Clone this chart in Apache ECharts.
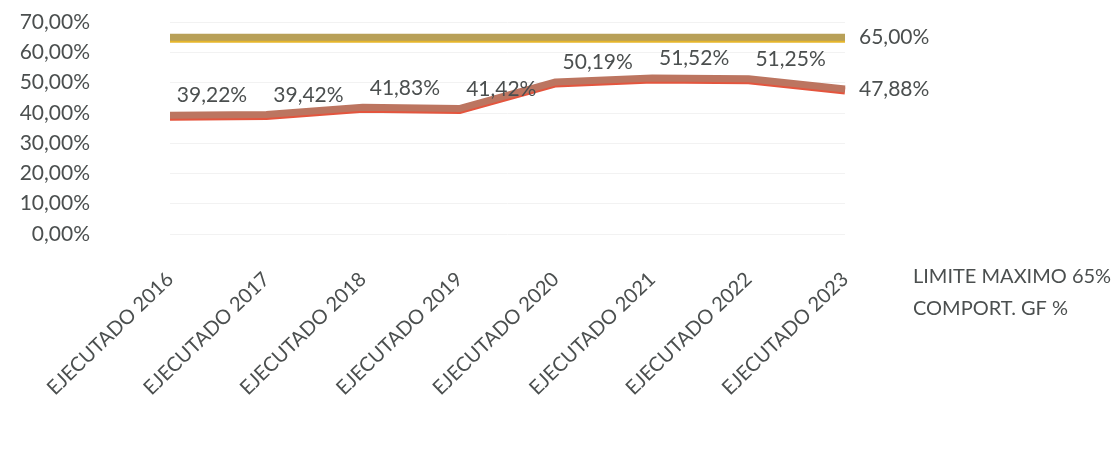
<!DOCTYPE html>
<html>
<head>
<meta charset="utf-8">
<script src="https://cdn.jsdelivr.net/npm/echarts@6/dist/echarts.min.js"></script>
<style>
  html, body { margin: 0; padding: 0; background: #ffffff; }
  #chart { width: 1120px; height: 464px; }
</style>
</head>
<body>
<div id="chart"></div>
<script>
// categorías y valores
const categories = ['EJECUTADO 2016', 'EJECUTADO 2017', 'EJECUTADO 2018', 'EJECUTADO 2019',
  'EJECUTADO 2020', 'EJECUTADO 2021', 'EJECUTADO 2022', 'EJECUTADO 2023'];
const comportGF = [39.22, 39.42, 41.83, 41.42, 50.19, 51.52, 51.25, 47.88];
const limiteMaximo = [65, 65, 65, 65, 65, 65, 65, 65];
const seriesNames = ['LIMITE MAXIMO 65%', 'COMPORT. GF %'];

const fmt = v => v.toFixed(2).replace('.', ',') + '%';
const textColor = '#4b4f4f';
const font = 'Lato';

const chart = echarts.init(document.getElementById('chart'));
const option = {
  animation: false,
  textStyle: { fontFamily: font },
  legend: {
    data: seriesNames,
    orient: 'vertical',
    left: 902,
    top: 262,
    itemWidth: 0,
    itemHeight: 0,
    itemGap: 12,
    textStyle: { fontFamily: font, fontSize: 20, color: textColor }
  },
  grid: {
    left: 170,
    right: 275,
    top: 22,
    bottom: 230
  },
  xAxis: {
    type: 'category',
    data: categories,
    boundaryGap: false,
    axisLine: { show: false },
    axisTick: { show: false },
    axisLabel: {
      rotate: 44,
      margin: 42,
      interval: 0,
      fontFamily: font,
      fontSize: 20,
      color: textColor
    }
  },
  yAxis: {
    type: 'value',
    min: 0,
    max: 70,
    interval: 10,
    axisLine: { show: false },
    axisTick: { show: false },
    splitLine: { lineStyle: { color: '#f2f2f2', width: 1 } },
    axisLabel: {
      margin: 80,
      fontFamily: font,
      fontSize: 21,
      color: textColor,
      formatter: fmt
    }
  },
  series: [
    {
      name: seriesNames[0],
      type: 'line',
      data: limiteMaximo,
      symbol: 'circle',
      symbolSize: 0,
      itemStyle: { color: '#c4a44a' },
      lineStyle: {
        width: 7,
        color: '#b8a058',
        shadowColor: '#e6b62c',
        shadowOffsetY: 2,
        shadowBlur: 0
      },
      label: {
        show: true,
        position: 'right',
        distance: 14,
        fontFamily: font,
        fontSize: 21,
        color: textColor,
        formatter: p => p.dataIndex === limiteMaximo.length - 1 ? fmt(p.value) : ''
      }
    },
    {
      name: seriesNames[1],
      type: 'line',
      data: comportGF,
      symbol: 'circle',
      symbolSize: 0,
      itemStyle: { color: '#c8664f' },
      lineStyle: {
        width: 7,
        color: '#bc7560',
        shadowColor: '#e4553e',
        shadowOffsetY: 2,
        shadowBlur: 0
      },
      label: {
        show: true,
        position: 'top',
        offset: [42, -4],
        fontFamily: font,
        fontSize: 21,
        color: textColor,
        formatter: p => p.dataIndex === comportGF.length - 1 ? '' : fmt(p.value)
      },
      markPoint: {
        symbol: 'circle',
        symbolSize: 0,
        data: [{ coord: [categories.length - 1, comportGF[comportGF.length - 1]], value: comportGF[comportGF.length - 1] }],
        label: {
          show: true,
          position: 'right',
          distance: 14,
          fontFamily: font,
          fontSize: 21,
          color: textColor,
          formatter: p => fmt(p.value)
        }
      }
    }
  ]
};
chart.setOption(option);
</script>
</body>
</html>
